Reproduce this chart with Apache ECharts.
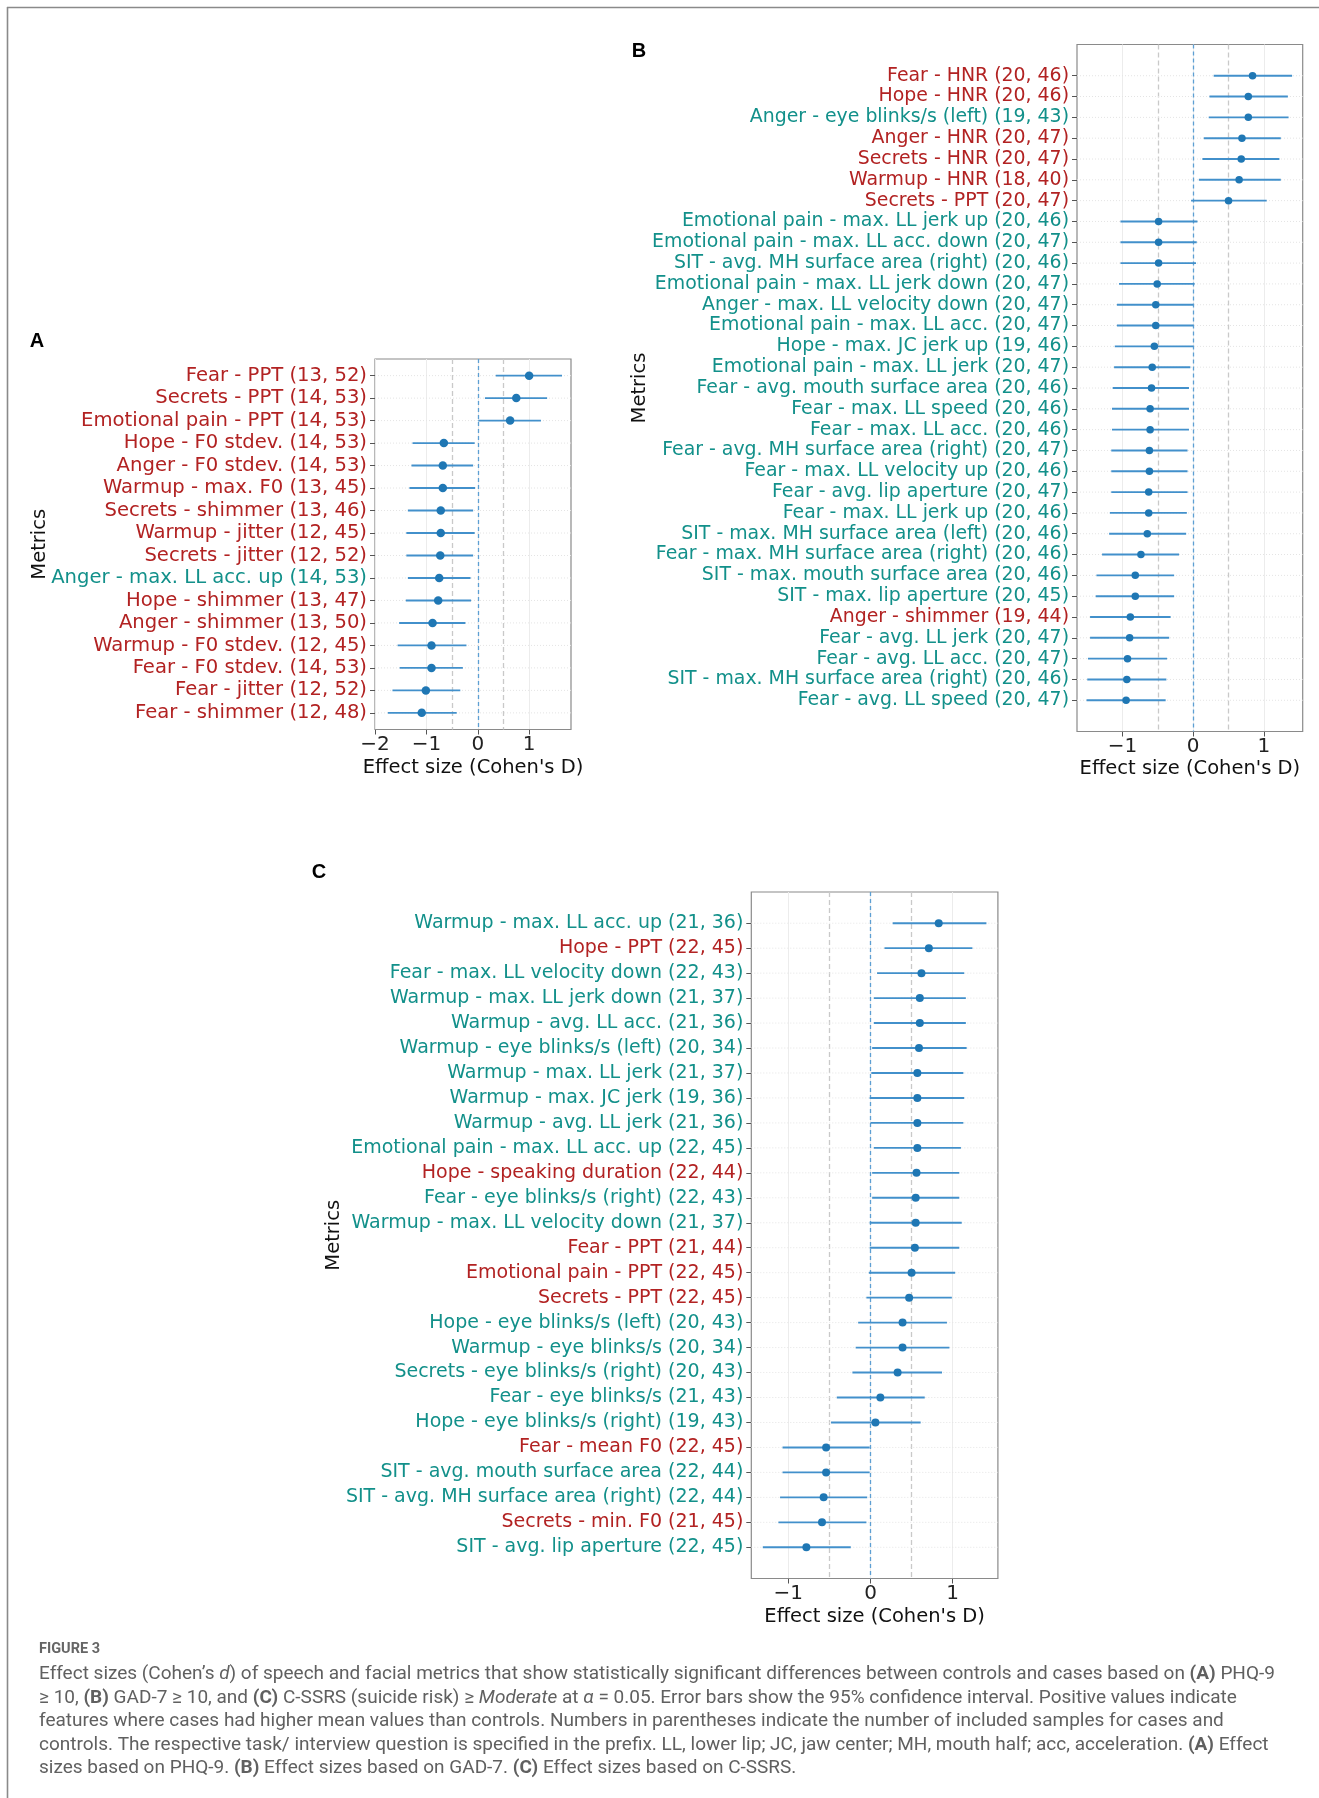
<!DOCTYPE html>
<html><head><meta charset="utf-8">
<script src="https://cdn.jsdelivr.net/npm/echarts@6/dist/echarts.min.js"></script>
<style>html,body{margin:0;padding:0;background:#fff}#c{width:1319px;height:1798px}</style>
</head><body><div id="c"></div>
<script>
// ---------- Panel A (PHQ-9) ----------
const labelsA = [
  "Fear - PPT (13, 52)", "Secrets - PPT (14, 53)", "Emotional pain - PPT (14, 53)",
  "Hope - F0 stdev. (14, 53)", "Anger - F0 stdev. (14, 53)", "Warmup - max. F0 (13, 45)",
  "Secrets - shimmer (13, 46)", "Warmup - jitter (12, 45)", "Secrets - jitter (12, 52)",
  "Anger - max. LL acc. up (14, 53)", "Hope - shimmer (13, 47)", "Anger - shimmer (13, 50)",
  "Warmup - F0 stdev. (12, 45)", "Fear - F0 stdev. (14, 53)", "Fear - jitter (12, 52)",
  "Fear - shimmer (12, 48)"
];
const kindA = ["s","s","s","s","s","s","s","s","s","f","s","s","s","s","s","s"];
const effA = [1.00, 0.75, 0.63, -0.66, -0.68, -0.68, -0.72, -0.72, -0.73, -0.75, -0.77, -0.88, -0.90, -0.90, -1.01, -1.09];
const loA  = [0.35, 0.14, 0.01, -1.27, -1.29, -1.33, -1.36, -1.39, -1.39, -1.36, -1.40, -1.53, -1.56, -1.52, -1.66, -1.75];
const hiA  = [1.64, 1.35, 1.23, -0.06, -0.09, -0.05, -0.09, -0.06, -0.09, -0.14, -0.13, -0.24, -0.22, -0.29, -0.34, -0.41];
const ticksA = [-2, -1, 0, 1];

// ---------- Panel B (GAD-7) ----------
const labelsB = [
  "Fear - HNR (20, 46)", "Hope - HNR (20, 46)", "Anger - eye blinks/s (left) (19, 43)",
  "Anger - HNR (20, 47)", "Secrets - HNR (20, 47)", "Warmup - HNR (18, 40)",
  "Secrets - PPT (20, 47)", "Emotional pain - max. LL jerk up (20, 46)",
  "Emotional pain - max. LL acc. down (20, 47)", "SIT - avg. MH surface area (right) (20, 46)",
  "Emotional pain - max. LL jerk down (20, 47)", "Anger - max. LL velocity down (20, 47)",
  "Emotional pain - max. LL acc. (20, 47)", "Hope - max. JC jerk up (19, 46)",
  "Emotional pain - max. LL jerk (20, 47)", "Fear - avg. mouth surface area (20, 46)",
  "Fear - max. LL speed (20, 46)", "Fear - max. LL acc. (20, 46)",
  "Fear - avg. MH surface area (right) (20, 47)", "Fear - max. LL velocity up (20, 46)",
  "Fear - avg. lip aperture (20, 47)", "Fear - max. LL jerk up (20, 46)",
  "SIT - max. MH surface area (left) (20, 46)", "Fear - max. MH surface area (right) (20, 46)",
  "SIT - max. mouth surface area (20, 46)", "SIT - max. lip aperture (20, 45)",
  "Anger - shimmer (19, 44)", "Fear - avg. LL jerk (20, 47)", "Fear - avg. LL acc. (20, 47)",
  "SIT - max. MH surface area (right) (20, 46)", "Fear - avg. LL speed (20, 47)"
];
const kindB = ["s","s","f","s","s","s","s","f","f","f","f","f","f","f","f","f","f","f","f","f","f","f","f","f","f","f","s","f","f","f","f"];
const effB = [0.84, 0.78, 0.78, 0.69, 0.68, 0.65, 0.50, -0.49, -0.49, -0.49, -0.51, -0.53, -0.53, -0.55, -0.58, -0.59,
              -0.61, -0.61, -0.62, -0.62, -0.63, -0.63, -0.65, -0.74, -0.82, -0.82, -0.89, -0.90, -0.93, -0.94, -0.95];
const loB  = [0.29, 0.23, 0.22, 0.15, 0.13, 0.08, -0.03, -1.03, -1.03, -1.03, -1.05, -1.08, -1.08, -1.11, -1.12, -1.14,
              -1.15, -1.15, -1.16, -1.16, -1.16, -1.18, -1.19, -1.29, -1.37, -1.38, -1.46, -1.46, -1.49, -1.50, -1.51];
const hiB  = [1.40, 1.34, 1.35, 1.24, 1.22, 1.24, 1.04, 0.06, 0.05, 0.04, 0.02, 0.00, 0.00, 0.00, -0.04, -0.06,
              -0.06, -0.06, -0.08, -0.08, -0.08, -0.09, -0.10, -0.20, -0.27, -0.27, -0.32, -0.34, -0.37, -0.38, -0.39];
const ticksB = [-1, 0, 1];

// ---------- Panel C (C-SSRS) ----------
const labelsC = [
  "Warmup - max. LL acc. up (21, 36)", "Hope - PPT (22, 45)", "Fear - max. LL velocity down (22, 43)",
  "Warmup - max. LL jerk down (21, 37)", "Warmup - avg. LL acc. (21, 36)", "Warmup - eye blinks/s (left) (20, 34)",
  "Warmup - max. LL jerk (21, 37)", "Warmup - max. JC jerk (19, 36)", "Warmup - avg. LL jerk (21, 36)",
  "Emotional pain - max. LL acc. up (22, 45)", "Hope - speaking duration (22, 44)", "Fear - eye blinks/s (right) (22, 43)",
  "Warmup - max. LL velocity down (21, 37)", "Fear - PPT (21, 44)", "Emotional pain - PPT (22, 45)",
  "Secrets - PPT (22, 45)", "Hope - eye blinks/s (left) (20, 43)", "Warmup - eye blinks/s (20, 34)",
  "Secrets - eye blinks/s (right) (20, 43)", "Fear - eye blinks/s (21, 43)", "Hope - eye blinks/s (right) (19, 43)",
  "Fear - mean F0 (22, 45)", "SIT - avg. mouth surface area (22, 44)", "SIT - avg. MH surface area (right) (22, 44)",
  "Secrets - min. F0 (21, 45)", "SIT - avg. lip aperture (22, 45)"
];
const kindC = ["f","s","f","f","f","f","f","f","f","f","s","f","f","s","s","s","f","f","f","f","f","s","f","f","s","f"];
const effC = [0.83, 0.71, 0.62, 0.60, 0.60, 0.59, 0.57, 0.57, 0.57, 0.57, 0.56, 0.55, 0.55, 0.54, 0.50, 0.47,
              0.39, 0.39, 0.33, 0.12, 0.06, -0.54, -0.54, -0.57, -0.59, -0.78];
const loC  = [0.27, 0.17, 0.08, 0.04, 0.04, 0.02, 0.01, -0.01, 0.00, 0.04, 0.02, 0.02, -0.01, -0.01, -0.02, -0.05,
              -0.15, -0.18, -0.22, -0.41, -0.48, -1.07, -1.07, -1.10, -1.12, -1.31];
const hiC  = [1.41, 1.24, 1.14, 1.16, 1.16, 1.17, 1.13, 1.14, 1.13, 1.10, 1.08, 1.08, 1.11, 1.08, 1.03, 0.99,
              0.93, 0.96, 0.87, 0.66, 0.61, -0.01, -0.01, -0.04, -0.05, -0.24];
const ticksC = [-1, 0, 1];

const refLines = [-0.5, 0, 0.5];

// ---------- styling ----------
const RED = '#b22222', TEAL = '#12908a';
const FONT = 'DejaVu Sans';

const panels = [
  { labels: labelsA, kind: kindA, eff: effA, lo: loA, hi: hiA, ticks: ticksA,
    grid: { left: 375, top: 359, width: 196, height: 370.5 }, xmin: -2.0, xmax: 1.815, pad: 0.74,
    fs: 19.6, sym: 8.5, nameGapY: 325, nameGapX: 28.5 },
  { labels: labelsB, kind: kindB, eff: effB, lo: loB, hi: hiB, ticks: ticksB,
    grid: { left: 1077, top: 44.5, width: 225.7, height: 687 }, xmin: -1.645, xmax: 1.55, pad: 1.5,
    fs: 18.9, sym: 7.5, nameGapY: 427, nameGapX: 27.5 },
  { labels: labelsC, kind: kindC, eff: effC, lo: loC, hi: hiC, ticks: ticksC,
    grid: { left: 751.3, top: 892, width: 246.6, height: 686.5 }, xmin: -1.45, xmax: 1.55, pad: 1.25,
    fs: 19.0, sym: 8, nameGapY: 407, nameGapX: 28 }
];

const grids = [], xAxes = [], yAxes = [], series = [];
const minus = v => (v < 0 ? '\u2212' + (-v) : String(v));

panels.forEach((p, g) => {
  const n = p.labels.length;
  const idx = p.labels.map((_, i) => i);
  grids.push(Object.assign({ show: true, borderColor: '#8a8a8a', borderWidth: 1.2, backgroundColor: 'transparent',
    outerBoundsMode: 'none', containLabel: false }, p.grid));
  xAxes.push({
    type: 'value', gridIndex: g, min: p.xmin, max: p.xmax, position: 'bottom',
    axisLine: { show: false, onZero: false },
    axisTick: { show: true, customValues: p.ticks, length: 5, lineStyle: { color: '#555', width: 1 } },
    axisLabel: { customValues: p.ticks, formatter: minus, fontSize: 20, fontFamily: FONT, color: '#222', margin: 5 },
    splitLine: { show: true, lineStyle: { color: '#ececec', width: 1 } },
    name: "Effect size (Cohen's D)", nameLocation: 'middle', nameGap: p.nameGapX, nameMoveOverlap: false,
    nameTextStyle: { fontSize: 19.5, fontFamily: FONT, color: '#111' }
  });
  yAxes.push({
    type: 'value', gridIndex: g, min: -p.pad, max: n - 1 + p.pad, inverse: true, position: 'left',
    axisLine: { show: false, onZero: false }, splitLine: { show: false },
    axisTick: { show: true, customValues: idx, length: 5, lineStyle: { color: '#555', width: 1 } },
    axisLabel: {
      customValues: idx, margin: 8,
      formatter: v => { const i = Math.round(v); return '{' + p.kind[i] + '|' + p.labels[i] + '}'; },
      rich: {
        s: { color: RED, fontSize: p.fs, fontFamily: FONT },
        f: { color: TEAL, fontSize: p.fs, fontFamily: FONT }
      }
    },
    name: 'Metrics', nameLocation: 'middle', nameRotate: 90, nameGap: p.nameGapY, nameMoveOverlap: false,
    nameTextStyle: { fontSize: 19.5, fontFamily: FONT, color: '#111' }
  });
  const xmin = p.xmin, xmax = p.xmax;
  series.push({
    type: 'custom', xAxisIndex: g, yAxisIndex: g, z: 2, silent: true,
    data: idx.map(i => [p.lo[i], p.hi[i], i]),
    encode: { x: [0, 1], y: 2 },
    renderItem: (params, api) => {
      const lo = api.value(0), hi = api.value(1), y = api.value(2);
      const a = api.coord([lo, y]), b = api.coord([hi, y]);
      const g1 = api.coord([xmin, y]), g2 = api.coord([xmax, y]);
      return { type: 'group', children: [
        { type: 'line', shape: { x1: g1[0], y1: g1[1], x2: g2[0], y2: g2[1] },
          style: { stroke: '#e4e4e4', lineWidth: 1, lineDash: [1, 2] } },
        { type: 'line', shape: { x1: a[0], y1: a[1], x2: b[0], y2: b[1] },
          style: { stroke: '#4290cb', lineWidth: 1.9 } }
      ] };
    }
  });
  series.push({
    type: 'scatter', xAxisIndex: g, yAxisIndex: g, z: 3, silent: true,
    symbol: 'circle', symbolSize: p.sym,
    itemStyle: { color: '#1f77b4', opacity: 1 },
    data: idx.map(i => [p.eff[i], i]),
    markLine: {
      z: 1, silent: true, symbol: 'none', label: { show: false }, animation: false,
      data: refLines.map(v => ({ xAxis: v, lineStyle: v === 0
        ? { color: '#5d9fd3', type: [4, 3], width: 1.3 }
        : { color: '#c9c9c9', type: [5, 3], width: 1.3 } }))
    }
  });
});

// caption and frame
const CAP = 'Roboto';
const CFS = 19;
const capRich = {
  n: { fontFamily: CAP, fontSize: CFS, color: '#606060' },
  b: { fontFamily: CAP, fontSize: CFS, fontWeight: 'bold', color: '#505050' },
  i: { fontFamily: CAP, fontSize: CFS, fontStyle: 'italic', color: '#606060' }
};
const capLines = [
  "{n|Effect sizes (Cohen\u2019s }{i|d}{n|) of speech and facial metrics that show statistically significant differences between controls and cases based on }{b|(A)}{n| PHQ-9}",
  "{n|\u2265 10, }{b|(B)}{n| GAD-7 \u2265 10, and }{b|(C)}{n| C-SSRS (suicide risk) \u2265 }{i|Moderate}{n| at }{i|\u03b1}{n| = 0.05. Error bars show the 95% confidence interval. Positive values indicate}",
  "{n|features where cases had higher mean values than controls. Numbers in parentheses indicate the number of included samples for cases and}",
  "{n|controls. The respective task/ interview question is specified in the prefix. LL, lower lip; JC, jaw center; MH, mouth half; acc, acceleration. }{b|(A)}{n| Effect}",
  "{n|sizes based on PHQ-9. }{b|(B)}{n| Effect sizes based on GAD-7. }{b|(C)}{n| Effect sizes based on C-SSRS.}"
];
const capY = [1674, 1698, 1721.5, 1745, 1768.5];

const graphic = [
  { type: 'line', shape: { x1: 7, y1: 7.5, x2: 1319, y2: 7.5 }, style: { stroke: '#8a8a8a', lineWidth: 1.6 } },
  { type: 'line', shape: { x1: 7.5, y1: 7, x2: 7.5, y2: 1798 }, style: { stroke: '#8a8a8a', lineWidth: 1.6 } },
  { type: 'text', x: 37, y: 341, style: { text: 'A', font: 'bold 20px "Liberation Sans"', fill: '#000', align: 'center', verticalAlign: 'middle' } },
  { type: 'text', x: 639, y: 51, style: { text: 'B', font: 'bold 20px "Liberation Sans"', fill: '#000', align: 'center', verticalAlign: 'middle' } },
  { type: 'text', x: 319, y: 872, style: { text: 'C', font: 'bold 20px "Liberation Sans"', fill: '#000', align: 'center', verticalAlign: 'middle' } },
  { type: 'text', x: 39, y: 1649, style: { text: 'FIGURE 3', font: 'bold 14.5px Roboto', fill: '#666', verticalAlign: 'middle' } }
];
capLines.forEach((t, k) => {
  graphic.push({ type: 'text', x: 39, y: capY[k], style: { text: t, rich: capRich, verticalAlign: 'middle', fill: '#606060', font: CFS + 'px Roboto' } });
});

const chart = echarts.init(document.getElementById('c'), null, { renderer: 'canvas' });
chart.setOption({
  animation: false,
  backgroundColor: '#ffffff',
  grid: grids, xAxis: xAxes, yAxis: yAxes, series: series, graphic: graphic
});
</script>
</body></html>
